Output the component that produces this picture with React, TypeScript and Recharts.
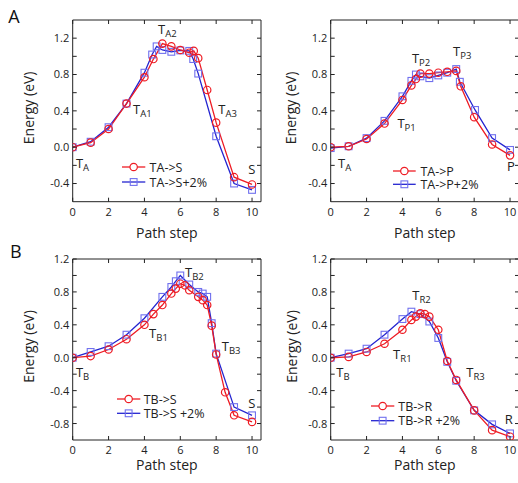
import React from 'react';
import { LineChart, Line, XAxis, YAxis, ReferenceDot, ReferenceArea, Legend } from 'recharts';

const FONT = '"Open Sans", "Noto Sans", sans-serif';
const RED = '#ee1c24';
const BLUE = '#2424d0';
const BLUE_MARK = '#7070ee';
const AXIS = '#222';
const TEXT = '#222';

// ---- Panel A: TA -> S ----
const stepsAS = [0, 1, 2, 3, 4, 4.5, 5, 5.5, 6, 6.5, 6.75, 7, 7.5, 8, 9, 10];
const energyAS = [0, 0.05, 0.2, 0.48, 0.77, 0.97, 1.14, 1.11, 1.07, 1.04, 1.06, 0.98, 0.63, 0.27, -0.33, -0.41];
const stepsAS2 = [0, 1, 2, 3, 4, 4.43, 4.68, 5, 5.5, 6, 6.5, 6.72, 7, 8, 9, 10];
const energyAS2 = [0, 0.06, 0.22, 0.48, 0.82, 1.02, 1.11, 1.07, 1.05, 1.065, 1.06, 0.97, 0.81, 0.12, -0.4, -0.47];

// ---- Panel B: TA -> P ----
const stepsAP = [0, 1, 2, 3, 4, 4.5, 4.75, 5, 5.5, 6, 6.5, 7, 7.25, 8, 9, 10];
const energyAP = [0, 0.01, 0.09, 0.26, 0.52, 0.68, 0.75, 0.81, 0.81, 0.82, 0.83, 0.84, 0.67, 0.33, 0.03, -0.09];
const stepsAP2 = [0, 1, 2, 3, 4, 4.5, 4.75, 5, 5.5, 6, 6.5, 7, 7.2, 8.05, 9, 10];
const energyAP2 = [-0.01, 0.01, 0.1, 0.29, 0.56, 0.73, 0.8, 0.78, 0.76, 0.79, 0.82, 0.86, 0.72, 0.41, 0.1, -0.03];

// ---- Panel C: TB -> S ----
const stepsBS = [0, 1, 2, 3, 4, 4.5, 5, 5.5, 5.75, 6, 6.25, 6.5, 7, 7.25, 7.5, 7.75, 8, 8.5, 9, 10];
const energyBS = [0, 0.02, 0.1, 0.225, 0.4, 0.53, 0.64, 0.78, 0.84, 0.9, 0.88, 0.82, 0.74, 0.7, 0.64, 0.39, 0.04, -0.42, -0.7, -0.78];
const stepsBS2 = [0, 1, 2, 3, 4, 5, 5.5, 5.75, 6, 6.5, 7, 7.25, 7.5, 7.75, 8, 9, 10];
const energyBS2 = [0, 0.07, 0.14, 0.28, 0.48, 0.74, 0.86, 0.93, 1.0, 0.89, 0.8, 0.78, 0.74, 0.42, 0.05, -0.6, -0.7];

// ---- Panel D: TB -> R ----
const stepsBR = [0, 1, 2, 3, 4, 4.5, 4.75, 5, 5.25, 5.5, 6, 6.5, 7, 8, 9, 10];
const energyBR = [0, 0.01, 0.07, 0.17, 0.34, 0.46, 0.5, 0.54, 0.53, 0.5, 0.34, -0.04, -0.27, -0.64, -0.88, -0.96];
const stepsBR2 = [0, 1, 2, 3, 4, 4.5, 5, 5.5, 6, 6.5, 7, 8, 9, 10];
const energyBR2 = [0, 0.05, 0.11, 0.28, 0.47, 0.56, 0.53, 0.44, 0.24, -0.05, -0.28, -0.64, -0.81, -0.92];

// ---- axes ----
const pathTicks = [0, 2, 4, 6, 8, 10];
const pathDomain = [0, 10.5];
const energyTicksTop = [-0.4, -0.2, 0, 0.2, 0.4, 0.6, 0.8, 1.0, 1.2];
const energyLabelsTop = [-0.4, 0, 0.4, 0.8, 1.2];
const energyDomainTop = [-0.6, 1.4];
const energyTicksBottom = [-0.8, -0.6, -0.4, -0.2, 0, 0.2, 0.4, 0.6, 0.8, 1.0, 1.2];
const energyLabelsBottom = [-0.8, -0.4, 0, 0.4, 0.8, 1.2];
const energyDomainBottom = [-1.0, 1.2];

// ---- annotations (data coordinates) ----
type Note = { x: number; y: number; main: string; sub?: string };
const notesA: Note[] = [
  { x: 0.18, y: -0.23, main: 'T', sub: 'A' },
  { x: 3.36, y: 0.36, main: 'T', sub: 'A1' },
  { x: 4.76, y: 1.25, main: 'T', sub: 'A2' },
  { x: 8.12, y: 0.36, main: 'T', sub: 'A3' },
  { x: 9.79, y: -0.3, main: 'S' },
];
const notesB: Note[] = [
  { x: 0.41, y: -0.23, main: 'T', sub: 'A' },
  { x: 3.72, y: 0.21, main: 'T', sub: 'P1' },
  { x: 4.53, y: 0.93, main: 'T', sub: 'P2' },
  { x: 6.82, y: 1.0, main: 'T', sub: 'P3' },
  { x: 9.83, y: -0.26, main: 'P' },
];
const notesC: Note[] = [
  { x: 0.18, y: -0.23, main: 'T', sub: 'B' },
  { x: 4.26, y: 0.245, main: 'T', sub: 'B1' },
  { x: 6.26, y: 0.98, main: 'T', sub: 'B2' },
  { x: 8.31, y: 0.084, main: 'T', sub: 'B3' },
  { x: 9.79, y: -0.61, main: 'S' },
];
const notesD: Note[] = [
  { x: 0.31, y: -0.23, main: 'T', sub: 'B' },
  { x: 3.48, y: -0.02, main: 'T', sub: 'R1' },
  { x: 4.55, y: 0.7, main: 'T', sub: 'R2' },
  { x: 7.56, y: -0.235, main: 'T', sub: 'R3' },
  { x: 9.7, y: -0.8, main: 'R' },
];

type Pt = { x: number; y: number };
const zip = (xs: number[], ys: number[]): Pt[] => xs.map((x, i) => ({ x, y: ys[i] }));

const ML = 72.7;
const MT = 20;
const PLOT_W = 188.3;
const CW = 273;
const CH = 243;

const circleDot = (p: any) => (
  <circle key={`c${p.index}`} cx={p.cx} cy={p.cy} r={3.7} fill="none" stroke={RED} strokeWidth={1.2} />
);
const squareDot = (p: any) => (
  <rect key={`s${p.index}`} x={p.cx - 3.4} y={p.cy - 3.4} width={6.8} height={6.8} fill="none" stroke={BLUE_MARK} strokeWidth={1.1} />
);

type LegendCfg = { left: number; top: number; gap: number; len: number; textX: number };

type PanelProps = {
  left: number;
  top: number;
  plotH: number;
  yDomain: number[];
  yTicks: number[];
  yLabels: number[];
  red: Pt[];
  blue: Pt[];
  redName: string;
  blueName: string;
  notes: Note[];
  legend: LegendCfg;
  yTitleDx: number;
  xTitleDy: number;
  xTickDy: number;
};

function Panel(props: PanelProps) {
  const { left, top, plotH, yDomain, yTicks, yLabels, red, blue, redName, blueName, notes, legend, yTitleDx, xTitleDy, xTickDy } = props;
  const MB = CH - MT - plotH;
  const MR = CW - ML - PLOT_W;

  const XTick = (p: any) => {
    const { x, y, payload } = p;
    return (
      <g>
        <line x1={x} x2={x} y1={y} y2={y - 4} stroke={AXIS} />
        <line x1={x} x2={x} y1={y - plotH} y2={y - plotH + 4} stroke={AXIS} />
        <text x={x} y={y + xTickDy} textAnchor="middle" fontSize={11} fontFamily={FONT} fill={TEXT}>
          {payload.value}
        </text>
      </g>
    );
  };

  const YTick = (p: any) => {
    const { x, y, payload } = p;
    const v = payload.value as number;
    const show = yLabels.some((l) => Math.abs(l - v) < 1e-6);
    return (
      <g>
        <line x1={x} x2={x + 4} y1={y} y2={y} stroke={AXIS} />
        <line x1={x + PLOT_W} x2={x + PLOT_W - 4} y1={y} y2={y} stroke={AXIS} />
        {show && (
          <text x={x - 3.5} y={y} dy="0.36em" textAnchor="end" fontSize={11} fontFamily={FONT} fill={TEXT}>
            {v.toFixed(1)}
          </text>
        )}
      </g>
    );
  };

  const XTitle = () => (
    <text x={ML + PLOT_W / 2} y={MT + plotH + xTitleDy} textAnchor="middle" fontSize={14} fontFamily={FONT} fill={TEXT}>
      Path step
    </text>
  );
  const yTitleX = ML + yTitleDx;
  const yTitleY = MT + plotH / 2 - 3;
  const YTitle = () => (
    <text
      x={yTitleX}
      y={yTitleY}
      transform={`rotate(-90 ${yTitleX} ${yTitleY})`}
      textAnchor="middle"
      fontSize={14}
      fontFamily={FONT}
      fill={TEXT}
    >
      Energy (eV)
    </text>
  );

  const renderLegend = (lp: any) => {
    const items = [...(lp.payload || [])].sort(
      (a: any, b: any) => (a.color === RED ? 0 : 1) - (b.color === RED ? 0 : 1)
    );
    return (
      <svg width={130} height={legend.gap + 16} style={{ display: 'block', overflow: 'visible' }}>
        {items.map((it: any, i: number) => {
          const cy = 8 + i * legend.gap;
          const isRed = it.color === RED;
          const mx = legend.len / 2;
          return (
            <g key={i}>
              <line x1={0} x2={legend.len} y1={cy} y2={cy} stroke={isRed ? RED : BLUE} strokeWidth={1.3} />
              {isRed ? (
                <circle cx={mx} cy={cy} r={3.7} fill="#fff" stroke={RED} strokeWidth={1.2} />
              ) : (
                <rect x={mx - 3.4} y={cy - 3.4} width={6.8} height={6.8} fill="none" stroke={BLUE_MARK} strokeWidth={1.1} />
              )}
              <text x={legend.textX} y={cy} dy="0.36em" fontSize={12.5} fontFamily={FONT} fill={TEXT}>
                {it.value}
              </text>
            </g>
          );
        })}
      </svg>
    );
  };

  return (
    <div style={{ position: 'absolute', left, top, width: CW, height: CH }}>
      <LineChart width={CW} height={CH} margin={{ top: MT, right: MR, bottom: MB - 1, left: ML - 1 }}>
        <XAxis
          type="number"
          dataKey="x"
          domain={pathDomain}
          ticks={pathTicks}
          interval={0}
          tick={XTick}
          tickSize={0}
          tickMargin={0}
          tickLine={false}
          axisLine={false}
          height={1}
          allowDataOverflow
          label={XTitle}
        />
        <YAxis
          type="number"
          dataKey="y"
          domain={yDomain}
          ticks={yTicks}
          interval={0}
          tick={YTick}
          tickSize={0}
          tickMargin={0}
          tickLine={false}
          axisLine={false}
          width={1}
          allowDataOverflow
          label={YTitle}
        />
        <ReferenceArea
          x1={pathDomain[0]}
          x2={pathDomain[1]}
          y1={yDomain[0]}
          y2={yDomain[1]}
          fill="none"
          stroke={AXIS}
          strokeWidth={1}
          ifOverflow="visible"
        />
        <Line
          data={blue}
          dataKey="y"
          name={blueName}
          type="linear"
          stroke={BLUE}
          strokeWidth={1.3}
          dot={squareDot}
          activeDot={false}
          isAnimationActive={false}
        />
        <Line
          data={red}
          dataKey="y"
          name={redName}
          type="linear"
          stroke={RED}
          strokeWidth={1.3}
          dot={circleDot}
          activeDot={false}
          isAnimationActive={false}
        />
        {notes.map((n, i) => (
          <ReferenceDot
            key={`n${i}`}
            x={n.x}
            y={n.y}
            r={0}
            ifOverflow="visible"
            shape={(p: any) => (
              <text x={p.cx} y={p.cy} fontSize={13} fontFamily={FONT} fill={TEXT}>
                {n.main}
                {n.sub && (
                  <tspan dy={3} fontSize={9.5}>
                    {n.sub}
                  </tspan>
                )}
              </text>
            )}
          />
        ))}
        <Legend
          layout="vertical"
          align="center"
          verticalAlign="middle"
          content={renderLegend}
          wrapperStyle={{ left: legend.left - left, top: legend.top - top - 8, width: 'auto', height: 'auto' }}
        />
      </LineChart>
    </div>
  );
}

export default function App() {
  return (
    <div
      style={{
        position: 'absolute',
        left: 0,
        top: 0,
        width: 518,
        height: 483,
        overflow: 'hidden',
        background: '#fff',
      }}
    >
      <Panel
        left={0}
        top={0}
        plotH={181.7}
        yDomain={energyDomainTop}
        yTicks={energyTicksTop}
        yLabels={energyLabelsTop}
        red={zip(stepsAS, energyAS)}
        blue={zip(stepsAS2, energyAS2)}
        redName="TA->S"
        blueName="TA->S+2%"
        notes={notesA}
        legend={{ left: 121.7, top: 166.7, gap: 15, len: 23.3, textX: 27.6 }}
        yTitleDx={-39}
        xTitleDy={36.5}
        xTickDy={14.5}
      />
      <Panel
        left={258}
        top={0}
        plotH={181.7}
        yDomain={energyDomainTop}
        yTicks={energyTicksTop}
        yLabels={energyLabelsTop}
        red={zip(stepsAP, energyAP)}
        blue={zip(stepsAP2, energyAP2)}
        redName="TA->P"
        blueName="TA->P+2%"
        notes={notesB}
        legend={{ left: 393.3, top: 171, gap: 13.3, len: 22.7, textX: 27.4 }}
        yTitleDx={-35}
        xTitleDy={36.5}
        xTickDy={14.5}
      />
      <Panel
        left={0}
        top={239}
        plotH={181}
        yDomain={energyDomainBottom}
        yTicks={energyTicksBottom}
        yLabels={energyLabelsBottom}
        red={zip(stepsBS, energyBS)}
        blue={zip(stepsBS2, energyBS2)}
        redName="TB->S"
        blueName="TB->S +2%"
        notes={notesC}
        legend={{ left: 117.3, top: 399, gap: 14.3, len: 23.3, textX: 26.7 }}
        yTitleDx={-38.4}
        xTitleDy={29.5}
        xTickDy={13.5}
      />
      <Panel
        left={258}
        top={239}
        plotH={181}
        yDomain={energyDomainBottom}
        yTicks={energyTicksBottom}
        yLabels={energyLabelsBottom}
        red={zip(stepsBR, energyBR)}
        blue={zip(stepsBR2, energyBR2)}
        redName="TB->R"
        blueName="TB->R +2%"
        notes={notesD}
        legend={{ left: 371, top: 406, gap: 14.7, len: 23.3, textX: 27.3 }}
        yTitleDx={-33.4}
        xTitleDy={29.5}
        xTickDy={13.5}
      />
      <svg width={518} height={483} style={{ position: 'absolute', left: 0, top: 0, pointerEvents: 'none' }}>
        <text x={8.3} y={22.7} fontSize={18} fontFamily={FONT} fill="#111">
          A
        </text>
        <text x={10} y={258.3} fontSize={18} fontFamily={FONT} fill="#111">
          B
        </text>
      </svg>
    </div>
  );
}
